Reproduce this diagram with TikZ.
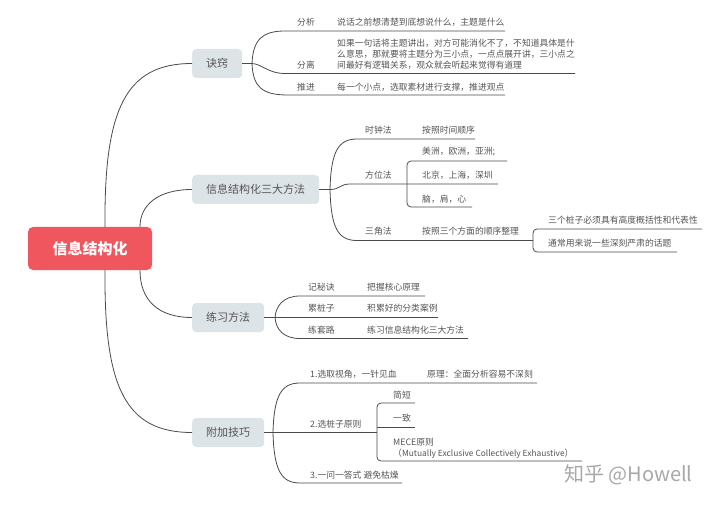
\documentclass[tikz,border=0pt]{standalone}
\usepackage{fontspec}
\newfontfamily\cjk{Noto Sans CJK SC}
\definecolor{ln}{HTML}{4A4A4A}
\definecolor{tx}{HTML}{555555}
\definecolor{mainfill}{HTML}{DDE4E7}
\definecolor{rootfill}{HTML}{F0565E}
\definecolor{wmgray}{HTML}{A8A8A8}
\begin{document}
\begin{tikzpicture}[x=1pt,y=-1pt,
  conn/.style={draw=ln,line width=0.8pt},
  lbl/.style={font=\cjk\fontsize{8.8}{11}\selectfont,text=tx,inner sep=0pt,anchor=west},
  mainbox/.style={fill=mainfill,rounded corners=4pt,font=\cjk\fontsize{11}{13}\selectfont,text=tx,minimum height=29pt,inner xsep=14pt,inner ysep=0pt,anchor=west},
  rootbox/.style={fill=rootfill,rounded corners=5pt,font=\cjk\bfseries\fontsize{15}{18}\selectfont,text=white,minimum width=124pt,minimum height=43pt,inner sep=0pt}]
\useasboundingbox (0,0) rectangle (720,505);
\fill[white] (0,0) rectangle (720,505);

% main nodes
\node[rootbox] (root) at (90,248.5) {信息结构化};
\node[mainbox] (m1) at (192,63.5) {诀窍};
\node[mainbox] (m2) at (192,189.5) {信息结构化三大方法};
\node[mainbox] (m3) at (192,317.5) {练习方法};
\node[mainbox] (m4) at (192,432.5) {附加技巧};

% root connectors
\draw[conn] ([xshift=15pt]root.north) .. controls (104,110) and (125,63.5) .. (m1.west);
\draw[conn] ([xshift=50pt]root.north) .. controls (140,205) and (158,189.5) .. (m2.west);
\draw[conn] ([xshift=50pt]root.south) .. controls (140,300) and (158,317.5) .. (m3.west);
\draw[conn] ([xshift=15pt]root.south) .. controls (104,387) and (125,432.5) .. (m4.west);

% ---------- 诀窍 ----------
\coordinate (f1) at (252,63.5);
\draw[conn] (m1.east) -- (f1);
\coordinate (a1) at (285,31);   \coordinate (a1e) at (505,31);
\coordinate (a2) at (285,73.5); \coordinate (a2e) at (575,73.5);
\coordinate (a3) at (288,95);   \coordinate (a3e) at (505,95);
\draw[conn] (f1) .. controls (253,40) and (262,31) .. (a1) -- (a1e);
\draw[conn] (f1) .. controls (262,64) and (268,73.5) .. (a2) -- (a2e);
\draw[conn] (f1) .. controls (253,87) and (262,95) .. (a3) -- (a3e);
\node[lbl] (l11) at (297,22) {分析};
\node[lbl] (t11) at (337,22) {说话之前想清楚到底想说什么，主题是什么};
\node[lbl] (l12) at (297,65) {分离};
\node[lbl,anchor=north west,align=left] (t12) at (337,38.6) {如果一句话将主题讲出，对方可能消化不了，不知道具体是什\\么意思，那就要将主题分为三小点，一点点展开讲，三小点之\\间最好有逻辑关系，观众就会听起来觉得有道理};
\node[lbl] (l13) at (297,87) {推进};
\node[lbl] (t13) at (337,87) {每一个小点，选取素材进行支撑，推进观点};

% ---------- 信息结构化三大方法 ----------
\coordinate (f2) at (330,189.5);
\draw[conn] (m2.east) -- (f2);
\coordinate (b1) at (357,139);   \coordinate (b1e) at (475,139);
\coordinate (b2) at (350,184);   \coordinate (b2e) at (498,184);
\coordinate (b3) at (357,240.5); \coordinate (b3e) at (533,240.5);
\draw[conn] (f2) .. controls (331,152) and (338,139) .. (b1) -- (b1e);
\draw[conn] (f2) .. controls (340,189.5) and (340,184) .. (b2) -- (b2e);
\draw[conn] (f2) .. controls (331,228) and (338,240.5) .. (b3) -- (b3e);
\node[lbl] (l21) at (365,130) {时钟法};
\node[lbl] (t21) at (422,130) {按照时间顺序};
\node[lbl] (l22) at (365,175) {方位法};
\node[lbl] (t22) at (422,175) {北京，上海，深圳};
\node[lbl] (t22a) at (422,152) {美洲，欧洲，亚洲;};
\node[lbl] (t22c) at (422,199) {脑，肩，心};
\node[lbl] (l23) at (365,231.5) {三角法};
\node[lbl] (t23) at (422,231.5) {按照三个方面的顺序整理};
\node[lbl] (t23a) at (548,220) {三个桩子必须具有高度概括性和代表性};
\node[lbl] (t23b) at (548,243) {通常用来说一些深刻严肃的话题};
% brackets
\coordinate (bk1) at (407,184);
\coordinate (c1e) at (507,161);
\coordinate (c3e) at (472,207);
\draw[conn,rounded corners=4pt] (c1e) -- (c1e -| bk1) -- (c3e -| bk1) -- (c3e);
\coordinate (bk2) at (533,240.5);
\coordinate (d1e) at (702,229);
\coordinate (d2e) at (677,252);
\draw[conn,rounded corners=4pt] (d1e) -- (d1e -| bk2) -- (d2e -| bk2) -- (d2e);

% ---------- 练习方法 ----------
\coordinate (f3) at (275,317.5);
\draw[conn] (m3.east) -- (f3);
\coordinate (e1) at (300,296);   \coordinate (e1e) at (425,296);
\coordinate (e2e) at (438,317.5);
\coordinate (e3) at (300,338.5); \coordinate (e3e) at (468,338.5);
\draw[conn] (f3) .. controls (276,306) and (283,296) .. (e1) -- (e1e);
\draw[conn] (f3) -- (e2e);
\draw[conn] (f3) .. controls (276,329) and (283,338.5) .. (e3) -- (e3e);
\node[lbl] (l31) at (308,287) {记秘诀};
\node[lbl] (t31) at (367,287) {把握核心原理};
\node[lbl] (l32) at (308,308) {累桩子};
\node[lbl] (t32) at (367,308) {积累好的分类案例};
\node[lbl] (l33) at (308,330) {练套路};
\node[lbl] (t33) at (367,330) {练习信息结构化三大方法};

% ---------- 附加技巧 ----------
\coordinate (f4) at (273,432.5);
\draw[conn] (m4.east) -- (f4);
\coordinate (g1) at (300,383);   \coordinate (g1e) at (537,383);
\coordinate (bk3) at (377,432.5);
\coordinate (g3) at (300,483);   \coordinate (g3e) at (402,483);
\draw[conn] (f4) .. controls (274,396) and (281,383) .. (g1) -- (g1e);
\draw[conn] (f4) -- (bk3);
\draw[conn] (f4) .. controls (274,470) and (281,483) .. (g3) -- (g3e);
\coordinate (h1e) at (415,403);
\coordinate (h2e) at (415,427);
\coordinate (h3e) at (582,461);
\draw[conn,rounded corners=4pt] (h1e) -- (h1e -| bk3) -- (h3e -| bk3) -- (h3e);
\draw[conn] (h2e -| bk3) -- (h2e);
\node[lbl] (l41) at (310,374) {1.选取视角，一针见血};
\node[lbl] (t41) at (427,374) {原理：全面分析容易不深刻};
\node[lbl] (l42) at (310,424) {2.选桩子原则};
\node[lbl] (l43) at (310,475) {3.一问一答式 避免枯燥};
\node[lbl] (t42a) at (393,395) {简短};
\node[lbl] (t42b) at (393,418) {一致};
\node[lbl,anchor=north west,align=left] (t42c) at (393,437.6) {MECE原则\\（{\fontsize{8.4}{11}\selectfont Mutually Exclusive Collectively Exhaustive}）};

% watermark
\node[font=\cjk\fontsize{20}{24}\selectfont,text=wmgray,inner sep=0pt,anchor=west] (wm) at (564,475) {知乎 @Howell};
\end{tikzpicture}
\end{document}
